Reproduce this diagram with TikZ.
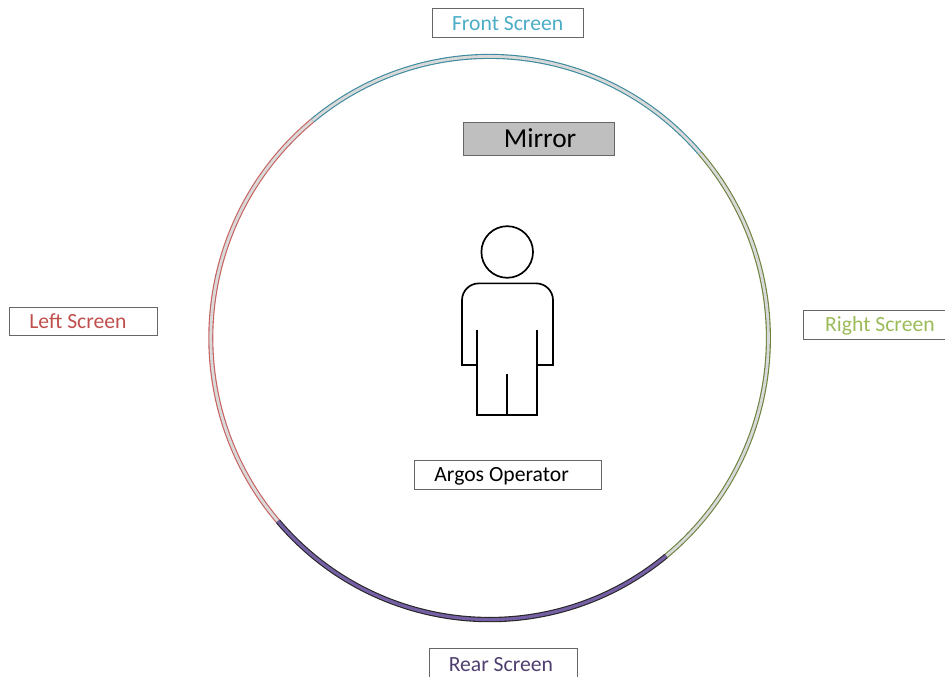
\documentclass[tikz,border=0pt]{standalone}
\usepackage{xcolor}
\usepackage{fontspec}
\setmainfont{Carlito}

\definecolor{frontcol}{HTML}{4BACC6}
\definecolor{leftcol}{HTML}{C0504D}
\definecolor{rightcol}{HTML}{9BBB59}
\definecolor{rearcol}{HTML}{4F3F6F}
\definecolor{rearfill}{HTML}{7560A6}

\tikzset{
    labelbox/.style={draw=black!60, line width=0.6pt, inner sep=0pt, font=\fontsize{15.4}{18}\selectfont},
    band/.style={line width=0.8pt, double=black!15, double distance=2pt},
}

\begin{document}
\begin{tikzpicture}
        \useasboundingbox (0,0) rectangle (23.625,16.925);

        \coordinate (hub) at (12.24,8.475);

        % the four screens
        \draw[band, draw=frontcol!80!black] ([shift={(41:6.97 and 7.04)}]hub) arc[start angle=41, end angle=129.5, x radius=6.97, y radius=7.04];
        \draw[band, draw=leftcol!90!white] ([shift={(129.5:6.97 and 7.04)}]hub) arc[start angle=129.5, end angle=220.6, x radius=6.97, y radius=7.04];
        \draw[band, draw=rightcol!70!black] ([shift={(-50.7:6.97 and 7.04)}]hub) arc[start angle=-50.7, end angle=41, x radius=6.97, y radius=7.04];
        \draw[line width=0.8pt, draw=black!85, double=rearfill, double distance=2.2pt] ([shift={(220.6:6.97 and 7.04)}]hub) arc[start angle=220.6, end angle=309.3, x radius=6.97, y radius=7.04];

        % operator
        \draw[line width=1.2pt] (12.68,10.625) circle (0.645);
        \draw[line width=1.2pt] (11.925,7.8) -- (11.55,7.8) -- (11.55,9.42) arc[start angle=180, end angle=90, radius=0.42] -- (13.405,9.84) arc[start angle=90, end angle=0, radius=0.42] -- (13.825,7.8) -- (13.425,7.8);
        \draw[line width=1.2pt] (11.925,8.675) -- (11.925,6.55) -- (13.425,6.55) -- (13.425,8.675);
        \draw[line width=1.2pt] (12.675,7.575) -- (12.675,6.55);

        \node[labelbox, minimum width=3.775cm, minimum height=0.725cm, text=frontcol] (frontlabel) at (12.69,16.34) {Front Screen};
        \node[labelbox, minimum width=3.775cm, minimum height=0.825cm, fill=black!25, font=\fontsize{19.5}{22}\selectfont] (mirrorlabel) at (13.475,13.46) {\kern1.5pt Mirror};
        \node[labelbox, minimum width=3.7cm, minimum height=0.7cm, text=leftcol] (leftlabel) at (2.09,8.9) {Left Screen\kern8pt};
        \node[labelbox, minimum width=3.575cm, minimum height=0.725cm, text=rightcol, text height=12pt] (rightlabel) at (21.875,8.81) {\kern7pt Right Screen};
        \node[labelbox, minimum width=4.675cm, minimum height=0.725cm, text height=13pt] (operatorlabel) at (12.69,5.06) {Argos Operator\kern8.5pt};
        \node[labelbox, minimum width=3.7cm, minimum height=0.725cm, text=rearcol, text height=13pt] (rearlabel) at (12.575,0.3625) {Rear Screen\kern3pt};
    \end{tikzpicture}
\end{document}
